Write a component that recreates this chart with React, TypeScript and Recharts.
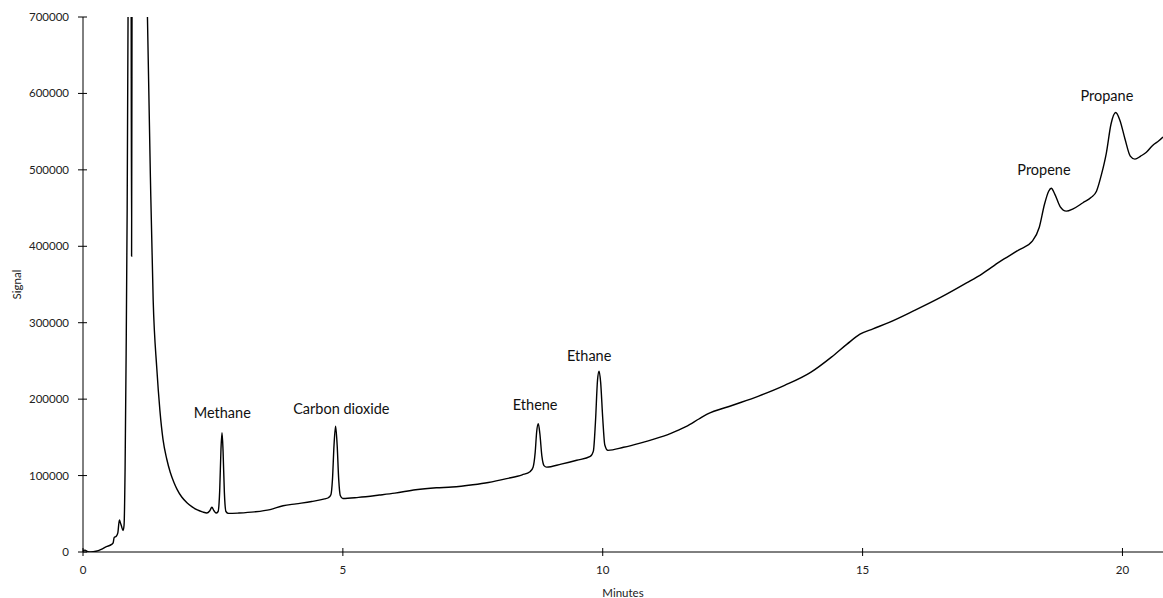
import React from "react";
import {
  LineChart,
  Line,
  XAxis,
  YAxis,
  ReferenceDot,
  Label,
} from "recharts";

// retention time (minutes) and detector signal
const MINUTES = [
  0.0, 0.04, 0.08, 0.15, 0.25, 0.35, 0.45, 0.55, 0.58, 0.6, 0.64, 0.67, 0.7,
  0.72, 0.74, 0.77, 0.79, 0.81, 0.83, 0.85, 0.87, 0.9, 0.925, 0.935, 0.945,
  0.97, 1.1, 1.2, 1.24, 1.3, 1.35, 1.42, 1.48, 1.54, 1.61, 1.68, 1.75, 1.81,
  1.9, 2.0, 2.1, 2.2, 2.3, 2.38, 2.44, 2.48, 2.52, 2.56, 2.6, 2.63, 2.655,
  2.675, 2.695, 2.72, 2.75, 2.8, 3.0, 3.3, 3.6, 3.85, 4.1, 4.4, 4.65, 4.72,
  4.77, 4.8, 4.83, 4.86, 4.89, 4.92, 4.95, 5.0, 5.3, 5.7, 6.0, 6.4, 6.8, 7.1,
  7.5, 7.8, 8.15, 8.45, 8.6, 8.66, 8.7, 8.73, 8.76, 8.79, 8.83, 8.87, 8.92,
  9.2, 9.5, 9.76, 9.82, 9.86, 9.9, 9.93, 9.96, 10.0, 10.04, 10.1, 10.4, 10.72,
  11.0, 11.3, 11.6, 11.85, 12.0, 12.5, 13.0, 13.5, 14.0, 14.4, 14.7, 14.95,
  15.2, 15.5, 16.0, 16.5, 17.0, 17.3, 17.64, 18.0, 18.27, 18.4, 18.5, 18.58,
  18.63, 18.7, 18.8, 18.92, 19.05, 19.24, 19.4, 19.5, 19.6, 19.69, 19.78,
  19.87, 19.95, 20.05, 20.15, 20.24, 20.35, 20.46, 20.58, 20.7, 20.78,
];

const SIGNAL = [
  2000, 2500, 800, 0, 1000, 3500, 7000, 10000, 12000, 19000, 20500, 25000,
  42000, 38000, 34000, 28000, 35000, 110000, 260000, 450000, 750000, 1400000,
  800000, 387000, 800000, 1500000, 1600000, 900000, 700000, 480000, 330000,
  240000, 185000, 147000, 122000, 104000, 91000, 82000, 72000, 64500, 59000,
  55000, 52500, 51000, 54000, 58500, 54000, 51000, 53000, 80000, 135000,
  156000, 132000, 78000, 53000, 50500, 51000, 52500, 55500, 60500, 63000,
  66000, 69500, 71000, 75000, 95000, 140000, 164500, 140000, 95000, 74000,
  70000, 71500, 74500, 77000, 81500, 84000, 85000, 88000, 91000, 96000,
  101000, 105000, 111000, 130000, 158000, 168000, 155000, 125000, 113000,
  111000, 115000, 120000, 125000, 132000, 170000, 225000, 236500, 222000,
  175000, 140000, 133000, 137000, 142500, 148000, 155000, 164000, 174000,
  180000, 192000, 204000, 218000, 235000, 255000, 272000, 285000, 292000,
  300000, 316000, 333000, 352000, 364000, 380000, 395000, 407000, 425000,
  455000, 472000, 476000, 468000, 452000, 446000, 449000, 457000, 464000,
  472000, 495000, 522000, 560000, 575000, 565000, 540000, 518000, 514000,
  518000, 523000, 532000, 538000, 543000,
];

const X_TICKS = [0, 5, 10, 15, 20];
const Y_TICKS = [0, 100000, 200000, 300000, 400000, 500000, 600000, 700000];

const PEAK_NAMES = ["Methane", "Carbon dioxide", "Ethene", "Ethane", "Propene", "Propane"];
const PEAK_LABEL_MIN = [2.68, 4.97, 8.7, 9.74, 18.49, 19.7];
const PEAK_LABEL_SIG = [182000, 187500, 193000, 257000, 500000, 597000];

const data = MINUTES.map((m, i) => ({ min: m, signal: SIGNAL[i] }));

const FONT = "Lato, 'Open Sans', sans-serif";
const AXIS_X = 83;
const AXIS_Y = 552;

function YTick(props: any) {
  const { y, payload } = props;
  return (
    <g>
      <line x1={AXIS_X - 5} x2={AXIS_X + 4} y1={y} y2={y} stroke="#000" strokeWidth={1} />
      <text x={AXIS_X - 14} y={y} dy={4} textAnchor="end" fontSize={11.5} fontFamily={FONT} fill="#222">
        {payload.value}
      </text>
    </g>
  );
}

function XTick(props: any) {
  const { x, payload } = props;
  return (
    <g>
      <line x1={x} x2={x} y1={AXIS_Y - 4} y2={AXIS_Y + 4} stroke="#000" strokeWidth={1} />
      <text x={x} y={AXIS_Y + 22} textAnchor="middle" fontSize={11.5} fontFamily={FONT} fill="#222">
        {payload.value}
      </text>
    </g>
  );
}

export default function App() {
  return (
    <div style={{ position: "absolute", left: 0, top: 0, background: "#fff" }}>
      <LineChart
        width={1163}
        height={598}
        data={data}
        margin={{ top: 17, right: 0, bottom: 0, left: 0 }}
      >
        <XAxis
          dataKey="min"
          type="number"
          domain={[0, 20.78]}
          ticks={X_TICKS}
          allowDataOverflow
          height={46}
          tickLine={false}
          axisLine={{ stroke: "#000", strokeWidth: 1 }}
          tick={<XTick />}
        >
          <Label
            value="Minutes"
            position="insideBottom"
            offset={1}
            style={{ fontSize: 11.5, fontFamily: FONT, fill: "#222" }}
          />
        </XAxis>
        <YAxis
          type="number"
          domain={[0, 700000]}
          ticks={Y_TICKS}
          allowDataOverflow
          width={83}
          tickLine={false}
          axisLine={{ stroke: "#000", strokeWidth: 1 }}
          tick={<YTick />}
        >
          <Label
            value="Signal"
            angle={-90}
            position="insideLeft"
            offset={17}
            style={{ fontSize: 11.5, fontFamily: FONT, fill: "#222", textAnchor: "middle" }}
          />
        </YAxis>
        <Line
          type="monotone"
          dataKey="signal"
          stroke="#000"
          strokeWidth={1.4}
          dot={false}
          isAnimationActive={false}
        />
        {PEAK_NAMES.map((name, i) => (
          <ReferenceDot
            key={name}
            x={PEAK_LABEL_MIN[i]}
            y={PEAK_LABEL_SIG[i]}
            r={0}
            fill="none"
            stroke="none"
            ifOverflow="visible"
          >
            <Label
              value={name}
              position="center"
              style={{ fontSize: 14.5, fontFamily: FONT, fill: "#111" }}
            />
          </ReferenceDot>
        ))}
      </LineChart>
    </div>
  );
}
